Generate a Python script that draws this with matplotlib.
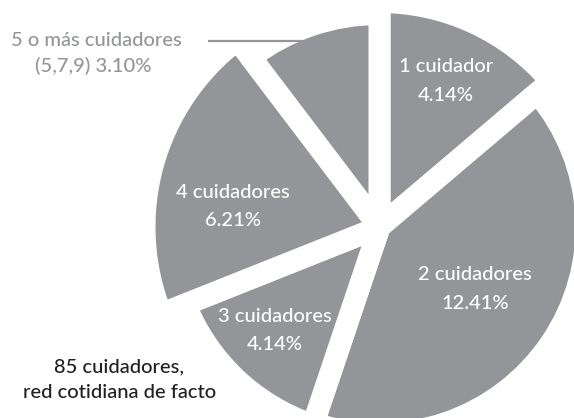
import matplotlib.pyplot as plt

# data
names = ['1 cuidador', '2 cuidadores', '3 cuidadores', '4 cuidadores', '5 o más cuidadores']
shares = [4.14, 12.41, 4.14, 6.21, 3.10]
note_5 = '(5,7,9)'
total_lines = ['85 cuidadores,', 'red cotidiana de facto']

GRAY = '#939598'
plt.rcParams['font.family'] = ['Lato', 'DejaVu Sans']
plt.rcParams['font.weight'] = 'medium'

W, H = 574, 418
fig = plt.figure(figsize=(W / 100, H / 100), dpi=100)
ax = fig.add_axes([0, 0, 1, 1])

# pie geometry in pixel units (y measured from the top of the image)
cx, cy = 379.5, 227
gap = 22                                  # white strip between slices, px
vis_r = [214, 196, 198, 224, 202]         # visible radius of each slice

wedges, _ = ax.pie(shares, startangle=90, counterclock=False,
                   colors=[GRAY] * len(shares), center=(cx, H - cy), radius=200,
                   wedgeprops=dict(edgecolor='white', linewidth=gap * 0.72,
                                   joinstyle='round'))
for w, r in zip(wedges, vis_r):
    w.set_radius(r + gap / 2)

ax.set_xlim(0, W)
ax.set_ylim(0, H)
ax.set_aspect('equal')
ax.axis('off')

# labels inside the slices (name, then percentage underneath)
label_pos = [(446, 67), (475, 275), (275, 316), (233, 192)]
for (x, y), name, val in zip(label_pos, names, shares):
    ax.text(x, H - y, name, color='white', fontsize=14.5, ha='center', va='center')
    ax.text(x, H - y - 28.5, f'{val:.2f}%', color='white', fontsize=14.5,
            ha='center', va='center')

# the small slice is labelled outside with a leader line
ax.plot([208, 304], [H - 41, H - 41], color=GRAY, lw=1.6, zorder=5,
        solid_capstyle='butt')
ax.text(96, H - 40, names[4], color=GRAY, fontsize=14.5, ha='center', va='center')
ax.text(93, H - 66, f'{note_5} {shares[4]:.2f}%', color=GRAY, fontsize=14.5,
        ha='center', va='center')

ax.text(119, H - 367, total_lines[0], color='#231f20', fontsize=14.5,
        ha='center', va='center')
ax.text(120, H - 392, total_lines[1], color='#231f20', fontsize=14.5,
        ha='center', va='center')

fig.savefig('out.png', dpi=100)
